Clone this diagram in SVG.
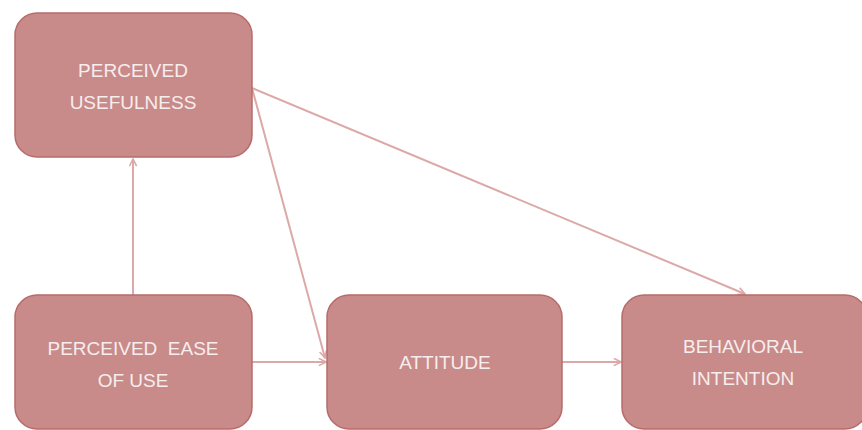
<svg xmlns="http://www.w3.org/2000/svg" width="862" height="430" viewBox="0 0 862 430">
  <style>
    .box { fill: #c88b8a; stroke: #b76c6b; stroke-width: 1.5; }
    .label { font-family: "Liberation Sans", "Open Sans", sans-serif; font-size: 19px; fill: #f7eded; text-anchor: middle; }
    .link { stroke: #dba9a8; stroke-width: 2; fill: none; marker-end: url(#chev); }
  </style>
  <defs>
    <marker id="chev" viewBox="0 0 10 10" refX="9" refY="5" markerWidth="9" markerHeight="9" orient="auto" markerUnits="userSpaceOnUse">
      <path d="M1,1 L9,5 L1,9" fill="none" stroke="#dba9a8" stroke-width="1.8"/>
    </marker>
  </defs>
  <rect width="862" height="430" fill="#ffffff"/>

  <g id="connectors">
    <line class="link" x1="133" y1="295" x2="133" y2="159"/>
    <line class="link" x1="252" y1="362" x2="326" y2="362"/>
    <line class="link" x1="562" y1="362" x2="621" y2="362"/>
    <line class="link" x1="252" y1="88" x2="325" y2="358"/>
    <line class="link" x1="252" y1="88" x2="745" y2="294"/>
  </g>

  <g id="perceived-usefulness">
    <rect class="box" x="15" y="13" width="237" height="144" rx="22"/>
    <text class="label" x="133" y="77">PERCEIVED</text>
    <text class="label" x="133" y="109">USEFULNESS</text>
  </g>

  <g id="perceived-ease-of-use">
    <rect class="box" x="15" y="295" width="237" height="134" rx="22"/>
    <text class="label" x="133" y="355" xml:space="preserve">PERCEIVED  EASE</text>
    <text class="label" x="133" y="387">OF USE</text>
  </g>

  <g id="attitude">
    <rect class="box" x="327" y="295" width="235" height="134" rx="22"/>
    <text class="label" x="445" y="369">ATTITUDE</text>
  </g>

  <g id="behavioral-intention">
    <rect class="box" x="622" y="295" width="245" height="134" rx="22"/>
    <text class="label" x="743" y="353">BEHAVIORAL</text>
    <text class="label" x="743" y="385">INTENTION</text>
  </g>
</svg>
